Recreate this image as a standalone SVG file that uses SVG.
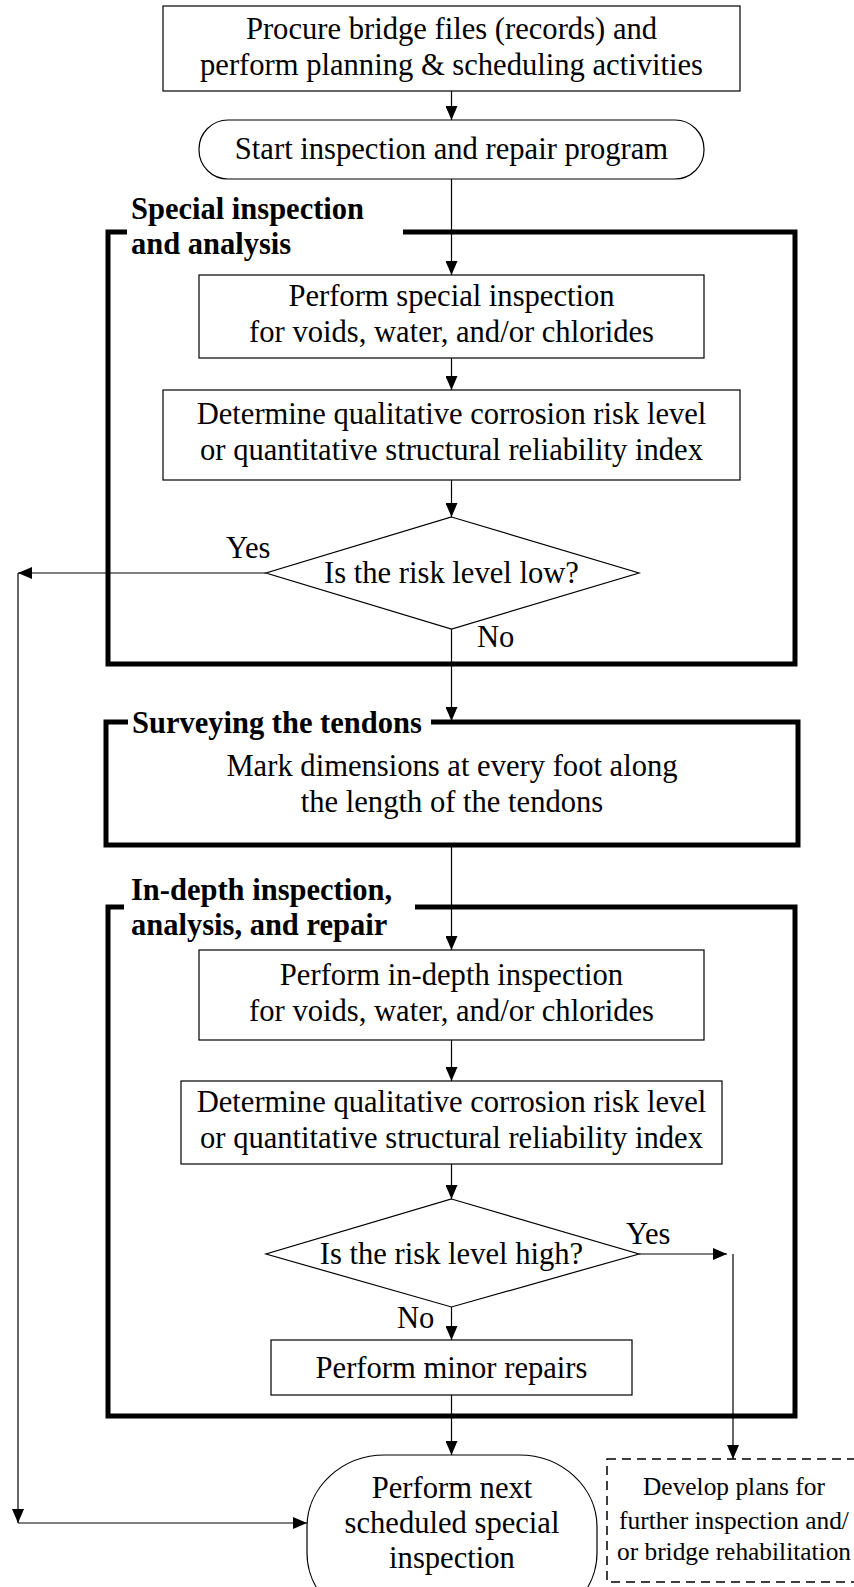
<svg xmlns="http://www.w3.org/2000/svg" width="854" height="1587" viewBox="0 0 854 1587">
<style>
  .box { fill: #ffffff; stroke: #000000; stroke-width: 1.2; }
  .grp { fill: none; stroke: #000000; stroke-width: 5; stroke-linejoin: miter; }
  .dash { fill: #ffffff; stroke: #000000; stroke-width: 1.5; stroke-dasharray: 9 6; }
  .t { font-family: "Liberation Serif", "Times New Roman", serif; font-size: 30.6px; fill: #000000; text-anchor: middle; }
  .ts { font-family: "Liberation Serif", "Times New Roman", serif; font-size: 25.4px; fill: #000000; text-anchor: middle; }
  .lbl { font-family: "Liberation Serif", "Times New Roman", serif; font-size: 30.6px; fill: #000000; }
  .b { font-family: "Liberation Serif", "Times New Roman", serif; font-size: 30.5px; font-weight: bold; fill: #000000; }
  .c { fill: none; stroke: #000000; stroke-width: 1.2; }
</style>
<defs>
  <marker id="arr" markerUnits="userSpaceOnUse" markerWidth="15" markerHeight="12" refX="14" refY="6" orient="auto">
    <path d="M0,0 L14,6 L0,12 Z" fill="#000000"/>
  </marker>
</defs>
<rect width="854" height="1587" fill="#ffffff"/>

<g id="group-special">
  <path class="grp" d="M127,232 H108 V664 H795 V232 H403"/>
  <text class="b" x="131" y="219">Special inspection</text>
  <text class="b" x="131" y="254">and analysis</text>
</g>
<g id="group-survey">
  <path class="grp" d="M128,722 H106 V845 H798 V722 H431"/>
  <text class="b" x="132" y="733">Surveying the tendons</text>
  <text class="t" x="452" y="776">Mark dimensions at every foot along</text>
  <text class="t" x="452" y="812">the length of the tendons</text>
</g>
<g id="group-indepth">
  <path class="grp" d="M124,907 H108 V1416 H795 V907 H415"/>
  <text class="b" x="131" y="900">In-depth inspection,</text>
  <text class="b" x="131" y="935">analysis, and repair</text>
</g>

<g id="connectors">
  <path class="c" d="M451.5,91 V120" marker-end="url(#arr)"/>
  <path class="c" d="M451.5,179 V275" marker-end="url(#arr)"/>
  <path class="c" d="M451.5,358 V390" marker-end="url(#arr)"/>
  <path class="c" d="M451.5,480 V517" marker-end="url(#arr)"/>
  <path class="c" d="M451.5,629 V721" marker-end="url(#arr)"/>
  <path class="c" d="M266,573 H18" marker-end="url(#arr)"/>
  <path class="c" d="M18,573 V1523" marker-end="url(#arr)"/>
  <path class="c" d="M18,1523 H307" marker-end="url(#arr)"/>
  <path class="c" d="M451.5,845 V950" marker-end="url(#arr)"/>
  <path class="c" d="M451.5,1040 V1081" marker-end="url(#arr)"/>
  <path class="c" d="M451.5,1164 V1199" marker-end="url(#arr)"/>
  <path class="c" d="M451.5,1307 V1340" marker-end="url(#arr)"/>
  <path class="c" d="M451.5,1395 V1455" marker-end="url(#arr)"/>
  <path class="c" d="M639,1254 H727" marker-end="url(#arr)"/>
  <path class="c" d="M733,1254 V1459" marker-end="url(#arr)"/>
  <text class="lbl" x="226" y="558">Yes</text>
  <text class="lbl" x="477" y="647">No</text>
  <text class="lbl" x="626" y="1244">Yes</text>
  <text class="lbl" x="397" y="1328">No</text>
</g>

<g id="n-procure">
  <rect class="box" x="163" y="6" width="577" height="85"/>
  <text class="t" x="451.5" y="39">Procure bridge files (records) and</text>
  <text class="t" x="451.5" y="75">perform planning &amp; scheduling activities</text>
</g>
<g id="n-start">
  <rect class="box" x="199" y="120" width="505" height="59" rx="29" ry="29"/>
  <text class="t" x="451.5" y="159">Start inspection and repair program</text>
</g>
<g id="n-special">
  <rect class="box" x="199" y="275" width="505" height="83"/>
  <text class="t" x="451.5" y="306">Perform special inspection</text>
  <text class="t" x="451.5" y="342">for voids, water, and/or chlorides</text>
</g>
<g id="n-determine1">
  <rect class="box" x="163" y="390" width="577" height="90"/>
  <text class="t" x="451.5" y="424">Determine qualitative corrosion risk level</text>
  <text class="t" x="451.5" y="460">or quantitative structural reliability index</text>
</g>
<g id="n-low">
  <polygon class="box" points="451.5,517 639,573 451.5,629 266,573"/>
  <text class="t" x="451.5" y="583">Is the risk level low?</text>
</g>
<g id="n-indepth">
  <rect class="box" x="199" y="950" width="505" height="90"/>
  <text class="t" x="451.5" y="985">Perform in-depth inspection</text>
  <text class="t" x="451.5" y="1021">for voids, water, and/or chlorides</text>
</g>
<g id="n-determine2">
  <rect class="box" x="181" y="1081" width="541" height="83"/>
  <text class="t" x="451.5" y="1112">Determine qualitative corrosion risk level</text>
  <text class="t" x="451.5" y="1148">or quantitative structural reliability index</text>
</g>
<g id="n-high">
  <polygon class="box" points="451.5,1199 639,1254 451.5,1307 266,1254"/>
  <text class="t" x="451.5" y="1264">Is the risk level high?</text>
</g>
<g id="n-minor">
  <rect class="box" x="271" y="1340" width="361" height="55"/>
  <text class="t" x="451.5" y="1378">Perform minor repairs</text>
</g>
<g id="n-next">
  <rect class="box" x="307" y="1455" width="290" height="170" rx="78" ry="72"/>
  <text class="t" x="452" y="1498">Perform next</text>
  <text class="t" x="452" y="1533">scheduled special</text>
  <text class="t" x="452" y="1568">inspection</text>
</g>
<g id="n-develop">
  <rect class="dash" x="607" y="1459" width="260" height="123"/>
  <text class="ts" x="734" y="1495">Develop plans for</text>
  <text class="ts" x="734" y="1529">further inspection and/</text>
  <text class="ts" x="734" y="1560">or bridge rehabilitation</text>
</g>
</svg>
